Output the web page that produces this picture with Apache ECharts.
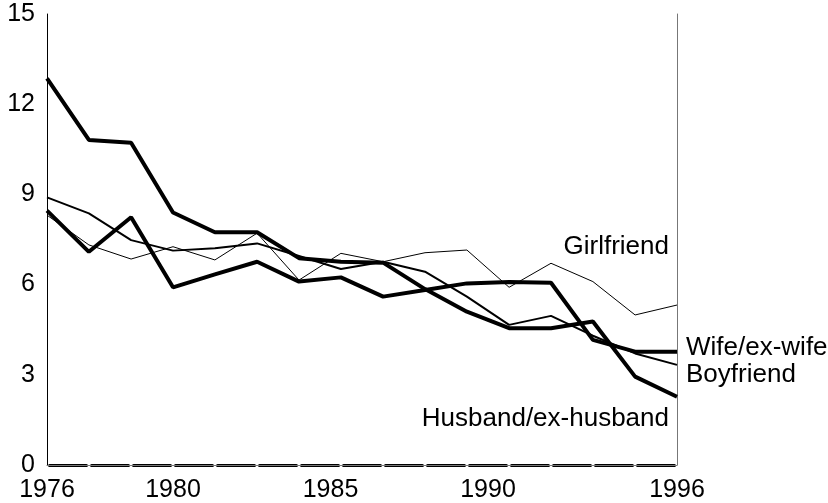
<!DOCTYPE html>
<html>
<head>
<meta charset="utf-8">
<script src="https://cdn.jsdelivr.net/npm/echarts@6/dist/echarts.min.js"></script>
<style>
  html, body { margin: 0; padding: 0; background: #fff; }
  #chart1 { width: 828px; height: 503px; }
</style>
</head>
<body>
<div id="chart1"></div>
<script>
// x positions of the data points (years)
var years = [1976, 1977.33, 1978.67, 1980, 1981.33, 1982.67, 1984, 1985.33, 1986.67, 1988, 1989.33, 1990.67, 1992, 1993.33, 1994.67, 1996];
var husband = [12.86, 10.81, 10.72, 8.40, 7.74, 7.74, 6.88, 6.76, 6.73, 5.85, 5.10, 4.55, 4.55, 4.77, 2.94, 2.27];
var wife = [8.46, 7.09, 8.24, 5.91, 6.34, 6.76, 6.10, 6.24, 5.60, 5.82, 6.04, 6.09, 6.06, 4.16, 3.77, 3.77];
var boyfriend = [8.90, 8.37, 7.48, 7.13, 7.21, 7.37, 6.95, 6.52, 6.76, 6.43, 5.60, 4.66, 4.96, 4.30, 3.71, 3.33];
var girlfriend = [8.31, 7.32, 6.85, 7.26, 6.82, 7.71, 6.15, 7.04, 6.76, 7.06, 7.15, 5.91, 6.71, 6.10, 4.99, 5.32];
var yearLabels = ['1976', '1980', '1985', '1990', '1996'];

(function () {
  var myChart = echarts.init(document.getElementById('chart1'));
  var font = 'Liberation Sans, Arial, sans-serif';

  function pairs(vals) {
    return years.map(function (y, i) { return [y, vals[i]]; });
  }

  function line(name, vals, width, align, offset) {
    return {
      name: name,
      type: 'line',
      data: pairs(vals),
      symbol: 'none',
      lineStyle: { color: '#000', width: width },
      itemStyle: { color: '#000' },
      endLabel: {
        show: true,
        formatter: name,
        distance: 0,
        align: align,
        verticalAlign: 'middle',
        offset: offset,
        color: '#000',
        fontSize: 26,
        fontFamily: font
      },
      silent: true,
      animation: false
    };
  }

  var option = {
    animation: false,
    grid: { left: 47, right: 151, top: 14, bottom: 38 },
    xAxis: [
      {
        type: 'value',
        min: 1976,
        max: 1996,
        interval: 1,
        axisLine: {
          show: true,
          lineStyle: { color: '#000', width: 3, type: [37, 5], dashOffset: 39.5 }
        },
        axisTick: { show: false },
        splitLine: { show: false },
        axisLabel: {
          margin: 13,
          color: '#000',
          fontSize: 25,
          fontFamily: font,
          formatter: function (v) {
            var s = String(Math.round(v));
            return yearLabels.indexOf(s) >= 0 ? s : '';
          }
        }
      },
      {
        type: 'value',
        position: 'top',
        min: 1976,
        max: 1996,
        axisLine: { show: true, lineStyle: { color: '#777', width: 1 } },
        axisTick: { show: false },
        axisLabel: { show: false },
        splitLine: { show: false }
      }
    ],
    yAxis: [
      {
        type: 'value',
        min: 0,
        max: 15,
        interval: 3,
        axisLine: { show: true, lineStyle: { color: '#000', width: 1 } },
        axisTick: { show: false },
        splitLine: { show: false },
        axisLabel: { margin: 12, color: '#000', fontSize: 25, fontFamily: font }
      },
      {
        type: 'value',
        position: 'right',
        min: 0,
        max: 15,
        axisLine: { show: true, lineStyle: { color: '#777', width: 1 } },
        axisTick: { show: false },
        axisLabel: { show: false },
        splitLine: { show: false }
      }
    ],
    series: [
      line('Girlfriend', girlfriend, 1, 'right', [-8, -58]),
      line('Boyfriend', boyfriend, 2, 'left', [9, 10]),
      line('Wife/ex-wife', wife, 4, 'left', [9, -4]),
      line('Husband/ex-husband', husband, 4, 'right', [-8, 22])
    ]
  };

  option && myChart.setOption(option);
})();
</script>
</body>
</html>
